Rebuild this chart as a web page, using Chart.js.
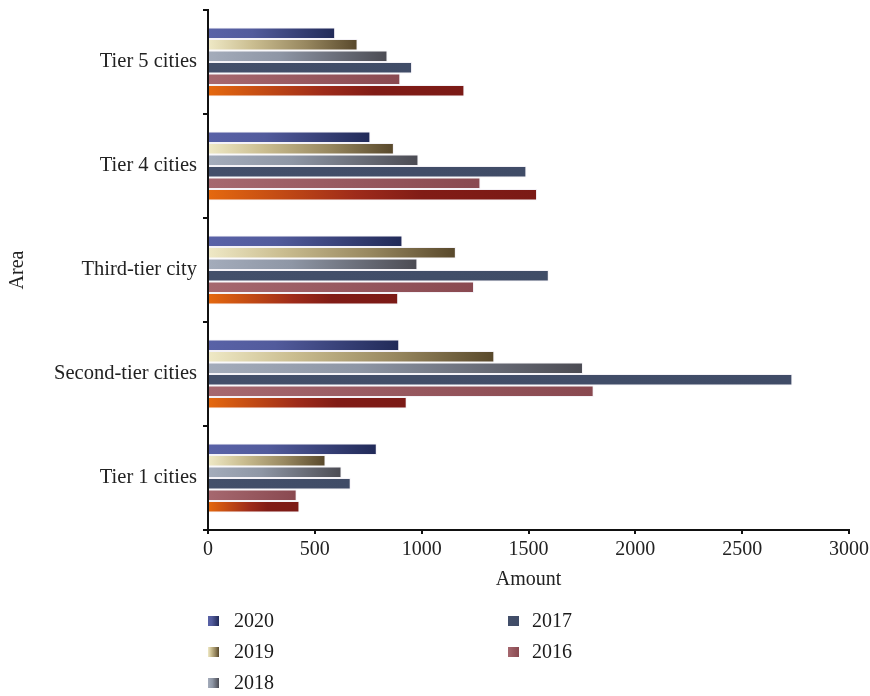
<!DOCTYPE html>
<html>
<head>
<meta charset="utf-8">
<title>Amount by area</title>
<script src="https://cdn.jsdelivr.net/npm/chart.js@4/dist/chart.umd.min.js"></script>
<style>
  html, body { margin: 0; padding: 0; background: #ffffff; }
  #wrap { width: 870px; height: 696px; position: relative; }
</style>
</head>
<body>
<div id="wrap"><canvas id="chart" width="870" height="696"></canvas></div>
<script>
// Area categories, top to bottom
const areas = ['Tier 5 cities', 'Tier 4 cities', 'Third-tier city', 'Second-tier cities', 'Tier 1 cities'];

// Amount per year for each area
const y2020 = [595, 760, 910, 895, 790];
const y2019 = [700, 870, 1160, 1340, 550];
const y2018 = [840, 985, 980, 1755, 625];
const y2017 = [955, 1490, 1595, 2735, 668];
const y2016 = [900, 1275, 1245, 1805, 415];
const y2015 = [1200, 1540, 890, 930, 428];

// Amount axis ticks
const amountTicks = [0, 500, 1000, 1500, 2000, 2500, 3000];

// Colour ramps (left to right along each bar)
const ramps = {
  '2020': [[0, '#5962a7'], [0.35, '#525b9c'], [1, '#212a58']],
  '2019': [[0, '#efe9c6'], [0.3, '#cabd90'], [0.65, '#988860'], [1, '#58482b']],
  '2018': [[0, '#a4acbb'], [0.4, '#8e96a5'], [1, '#4b4b53']],
  '2017': [[0, '#434f6a'], [1, '#404c67']],
  '2016': [[0, '#a6686f'], [1, '#894950']],
  '2015': [[0, '#e5690f'], [0.45, '#9e2b1a'], [0.65, '#811c16'], [1, '#7b1a16']]
};

function makeRamp(ctx2d, x0, x1, stops) {
  const g = ctx2d.createLinearGradient(x0, 0, Math.max(x1, x0 + 1), 0);
  stops.forEach(s => g.addColorStop(s[0], s[1]));
  return g;
}

function barFill(key) {
  return function (ctx) {
    const chart = ctx.chart;
    const xs = chart.scales.x;
    if (ctx.type !== 'data' || !xs || !chart.chartArea) return ramps[key][0][1];
    const x0 = xs.getPixelForValue(0);
    const x1 = xs.getPixelForValue(ctx.raw);
    return makeRamp(chart.ctx, x0, x1, ramps[key]);
  };
}

const series = [
  { label: '2020', data: y2020, legend: true },
  { label: '2019', data: y2019, legend: true },
  { label: '2018', data: y2018, legend: true },
  { label: '2017', data: y2017, legend: true },
  { label: '2016', data: y2016, legend: true },
  { label: '2015', data: y2015, legend: false }
];

const FONT = '"Liberation Serif", "Times New Roman", serif';

// Two-column legend under the plot
const legendLayout = {
  id: 'legendLayout',
  afterDraw(chart) {
    const c = chart.ctx;
    const cols = [{ box: 208, text: 234 }, { box: 508, text: 532 }];
    const baselines = [627, 658, 689];
    const shown = series.filter(s => s.legend);
    c.save();
    c.font = '20px ' + FONT;
    c.textBaseline = 'alphabetic';
    c.textAlign = 'left';
    shown.forEach((s, i) => {
      const col = cols[Math.floor(i / 3)];
      const base = baselines[i % 3];
      const bx = col.box, by = base - 11, bw = 11, bh = 10;
      c.fillStyle = makeRamp(c, bx, bx + bw, ramps[s.label]);
      c.fillRect(bx, by, bw, bh);
      c.fillStyle = '#1b1b1b';
      c.fillText(s.label, col.text, base);
    });
    c.restore();
  }
};

new Chart(document.getElementById('chart'), {
  type: 'bar',
  data: {
    labels: areas,
    datasets: series.map(s => ({
      label: s.label,
      data: s.data,
      backgroundColor: barFill(s.label),
      borderColor: 'rgba(235,232,240,0.55)',
      borderWidth: 1,
      borderSkipped: 'left',
      categoryPercentage: 0.665,
      barPercentage: 1.0
    }))
  },
  options: {
    indexAxis: 'y',
    responsive: false,
    animation: false,
    devicePixelRatio: 1,
    layout: { padding: { left: 0, right: 21, top: 10, bottom: 104 } },
    plugins: {
      legend: { display: false },
      tooltip: { enabled: false }
    },
    scales: {
      x: {
        min: 0,
        max: 3000,
        afterBuildTicks: (scale) => { scale.ticks = amountTicks.map(v => ({ value: v })); },
        afterFit: (scale) => { scale.height = 62; scale.paddingLeft = 0; scale.paddingRight = 0; },
        border: { display: true, color: '#111', width: 2 },
        grid: { display: true, drawOnChartArea: false, tickLength: 4, color: '#111', lineWidth: 2 },
        ticks: {
          color: '#222', padding: 4, maxRotation: 0,
          font: { family: FONT, size: 20 },
          callback: (v) => String(v)
        },
        title: { display: true, text: 'Amount', color: '#222', font: { family: FONT, size: 20 }, padding: { top: 0, bottom: 0 } }
      },
      y: {
        afterFit: (scale) => { scale.width = 208; scale.paddingTop = 0; scale.paddingBottom = 0; },
        border: { display: true, color: '#111', width: 2 },
        grid: { display: true, drawOnChartArea: false, tickLength: 5, color: '#111', lineWidth: 2 },
        ticks: { color: '#222', padding: 6, font: { family: FONT, size: 20.5 } },
        title: { display: true, text: 'Area', color: '#222', font: { family: FONT, size: 20 }, padding: { top: 6, bottom: 0 } }
      }
    }
  },
  plugins: [legendLayout]
});
</script>
</body>
</html>
